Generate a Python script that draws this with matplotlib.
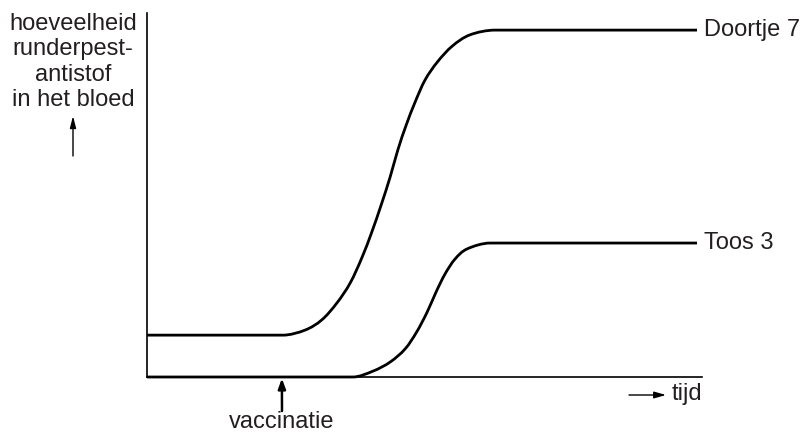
import matplotlib
matplotlib.use("Agg")
import matplotlib.pyplot as plt
from matplotlib.path import Path
from matplotlib.patches import PathPatch

plt.rcParams['font.family'] = ['Liberation Sans', 'DejaVu Sans']

# Data (arbitrary units: time 0-100, amount 0-100)
doortje_x = [0, 24.5, 28.5, 31.5, 34.2, 36.6, 38.7, 40.5, 42.2, 43.8, 45.2, 46.7, 48.3, 50.1, 52.3, 55.0, 58.2, 62.7, 99.1]
doortje_y = [11.5, 11.5, 12.9, 15.7, 20.3, 25.8, 32.7, 39.8, 47.3, 54.9, 62.4, 69.2, 75.5, 81.6, 86.5, 90.9, 94.0, 95.3, 95.3]
toos_x = [0, 37.1, 40.7, 43.8, 46.5, 48.6, 50.5, 52.1, 53.7, 55.5, 57.7, 61.8, 99.1]
toos_y = [0, 0, 1.6, 4.1, 7.7, 12.4, 17.9, 23.4, 28.3, 32.4, 35.2, 36.8, 36.8]
series_labels = ["Doortje 7", "Toos 3"]
vaccination_x = 24.3
ylabel_text = "hoeveelheid\nrunderpest-\nantistof\nin het bloed"
xlabel_text = "tijd"
vacc_text = "vaccinatie"

W, H = 800, 433
fig = plt.figure(figsize=(W / 100, H / 100), dpi=100)
ax = fig.add_axes([147 / W, (H - 377) / H, 555 / W, 364 / H])
ax.set_xlim(0, 100)
ax.set_ylim(0, 100)
for s in ['top', 'right']:
    ax.spines[s].set_visible(False)
for s in ['left', 'bottom']:
    ax.spines[s].set_linewidth(1.2)
ax.set_xticks([])
ax.set_yticks([])


def smooth_path(xs, ys):
    """Flat start, Catmull-Rom Bezier through inner points, flat end."""
    pts = list(zip(xs, ys))
    inner = pts[1:-1]
    verts = [pts[0], inner[0]]
    codes = [Path.MOVETO, Path.LINETO]
    n = len(inner)
    p0, p1 = inner[0], inner[1]
    pre = (p0[0] - (p1[0] - p0[0]), p1[1])
    q0, q1 = inner[-1], inner[-2]
    post = (q0[0] + (q0[0] - q1[0]), q1[1])
    ext = [pre] + inner + [post]
    for i in range(1, n):
        a, b, c, d = ext[i - 1], ext[i], ext[i + 1], ext[i + 2]
        c1 = (b[0] + (c[0] - a[0]) / 6, b[1] + (c[1] - a[1]) / 6)
        c2 = (c[0] - (d[0] - b[0]) / 6, c[1] - (d[1] - b[1]) / 6)
        verts += [c1, c2, c]
        codes += [Path.CURVE4] * 3
    verts.append(pts[-1])
    codes.append(Path.LINETO)
    return Path(verts, codes)


lw = 2.0
for xs, ys in [(doortje_x, doortje_y), (toos_x, toos_y)]:
    ax.add_patch(PathPatch(smooth_path(xs, ys), fill=False, edgecolor='black', lw=lw,
                           joinstyle='round', capstyle='butt', clip_on=False))

def P(x, y):
    return (x / W, 1 - y / H)

fs = 17
txtc = '#231f20'
ax.annotate(series_labels[0], xy=(doortje_x[-1], doortje_y[-1]), xytext=(5, 0), textcoords='offset points',
            va='center', ha='left', fontsize=fs, color=txtc, annotation_clip=False)
ax.annotate(series_labels[1], xy=(toos_x[-1], toos_y[-1]), xytext=(5, 0), textcoords='offset points',
            va='center', ha='left', fontsize=fs, color=txtc, annotation_clip=False)

# y label
fig.text(*P(73, 13), ylabel_text, ha='center', va='top', fontsize=fs, color=txtc, linespacing=1.2)
ax.annotate('', xy=P(73, 116), xycoords='figure fraction', xytext=P(73, 156), textcoords='figure fraction',
            arrowprops=dict(arrowstyle='-|>,head_length=0.7,head_width=0.18', color='black', lw=1.0,
                            shrinkA=0, shrinkB=0))

# x label
fig.text(*P(672, 394), xlabel_text, ha='left', va='center', fontsize=fs, color=txtc)
ax.annotate('', xy=P(666, 395), xycoords='figure fraction', xytext=P(629, 395), textcoords='figure fraction',
            arrowprops=dict(arrowstyle='-|>,head_length=0.7,head_width=0.2', color='black', lw=1.0,
                            shrinkA=0, shrinkB=0))

# vaccination marker
ax.annotate('', xy=(vaccination_x, 0), xycoords='data', xytext=P(282, 411), textcoords='figure fraction',
            arrowprops=dict(arrowstyle='-|>,head_length=0.6,head_width=0.22', color='black', lw=1.8,
                            shrinkA=0, shrinkB=1))
fig.text(*P(282, 428), vacc_text, ha='center', va='baseline', fontsize=fs, color=txtc)

fig.savefig('out.png', dpi=100)
